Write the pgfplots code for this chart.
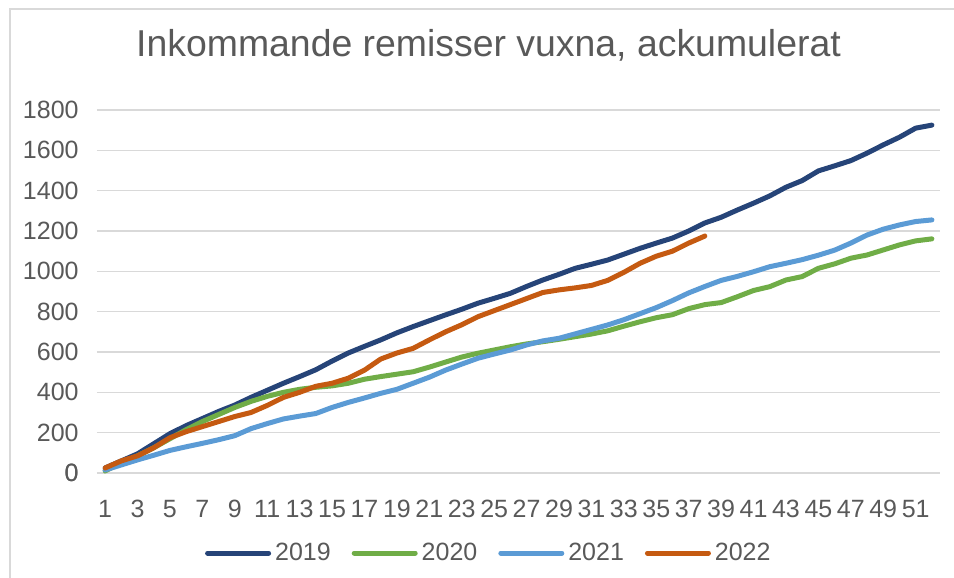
\documentclass[border=0pt]{standalone}
\usepackage{fontspec}
\setmainfont{Liberation Sans}
\usepackage{pgfplots}
\pgfplotsset{compat=1.18}
\definecolor{c2019}{HTML}{264478}
\definecolor{c2020}{HTML}{70AD47}
\definecolor{c2021}{HTML}{5B9BD5}
\definecolor{c2022}{HTML}{C55A11}
\definecolor{gridc}{HTML}{D9D9D9}
\definecolor{txt}{HTML}{595959}
\begin{document}
\begin{tikzpicture}
\useasboundingbox (-48.5pt,-52.5pt) rectangle (428.5pt,236.5pt);
\draw[gridc, line width=0.75pt] (-43.5pt,-60pt) -- (-43.5pt,232pt) -- (440pt,232pt);
\node[anchor=base, text=txt, font=\fontsize{18.7}{22}\selectfont, inner sep=0pt] at (195.75pt,208.25pt) {Inkommande remisser vuxna, ackumulerat};
\begin{axis}[
  at={(0pt,0pt)}, anchor=south west,
  scale only axis, width=421.5pt, height=181.5pt,
  xmin=0.5, xmax=52.5, ymin=0, ymax=1800,
  xtick={1,3,...,51}, ytick={0,200,...,1800},
  axis line style={draw=none},
  axis x line*=bottom,
  tick style={draw=none},
  ymajorgrids, grid style={gridc, line width=0.75pt},
  extra y ticks={0}, extra y tick style={grid style={gridc, line width=0.9pt}},
  /pgf/number format/assume math mode=true,
  /pgf/number format/1000 sep={},
  ticklabel style={text=txt, font=\fontsize{12.5}{15}\selectfont, inner sep=0pt},
  yticklabel style={anchor=east, xshift=-9pt},
  xticklabel style={anchor=north, yshift=-13.5pt},
  clip=false,
  legend columns=4,
  legend style={at={(0.466,-0.2204)}, anchor=center, draw=none, fill=none,
    font=\fontsize{12.5}{15}\selectfont, text=txt,
    /tikz/every even column/.append style={column sep=8.5pt}},
  legend image code/.code={\draw[#1, line cap=round] (0pt,0pt) -- (30.5pt,0pt);},
  every axis plot/.append style={line width=2.5pt, line join=round, line cap=round, mark=none},
]
\addplot[c2019] coordinates {
(1,25)(2,60)(3,95)(4,145)(5,195)(6,235)(7,270)(8,305)(9,337)(10,375)
(11,410)(12,445)(13,478)(14,512)(15,555)(16,595)(17,628)(18,660)(19,695)(20,726)
(21,755)(22,784)(23,812)(24,842)(25,866)(26,891)(27,925)(28,957)(29,985)(30,1015)
(31,1035)(32,1056)(33,1085)(34,1114)(35,1140)(36,1165)(37,1200)(38,1240)(39,1268)(40,1304)
(41,1338)(42,1374)(43,1417)(44,1450)(45,1498)(46,1523)(47,1549)(48,1586)(49,1627)(50,1665)
(51,1710)(52,1725)};
\addlegendentry{2019}
\addplot[c2020] coordinates {
(1,10)(2,50)(3,85)(4,125)(5,170)(6,215)(7,255)(8,290)(9,325)(10,355)
(11,380)(12,400)(13,415)(14,425)(15,432)(16,445)(17,465)(18,478)(19,490)(20,502)
(21,525)(22,550)(23,575)(24,594)(25,610)(26,626)(27,640)(28,651)(29,663)(30,676)
(31,689)(32,705)(33,728)(34,750)(35,770)(36,785)(37,815)(38,835)(39,845)(40,874)
(41,905)(42,924)(43,957)(44,974)(45,1015)(46,1037)(47,1065)(48,1081)(49,1106)(50,1131)
(51,1151)(52,1161)};
\addlegendentry{2020}
\addplot[c2021] coordinates {
(1,15)(2,40)(3,65)(4,88)(5,112)(6,130)(7,147)(8,165)(9,185)(10,220)
(11,245)(12,268)(13,282)(14,295)(15,325)(16,350)(17,372)(18,395)(19,415)(20,445)
(21,475)(22,510)(23,540)(24,569)(25,590)(26,610)(27,635)(28,655)(29,668)(30,690)
(31,712)(32,734)(33,760)(34,790)(35,820)(36,855)(37,893)(38,925)(39,955)(40,975)
(41,998)(42,1023)(43,1040)(44,1058)(45,1080)(46,1105)(47,1140)(48,1180)(49,1209)(50,1230)
(51,1247)(52,1255)};
\addlegendentry{2021}
\addplot[c2022] coordinates {
(1,25)(2,60)(3,85)(4,125)(5,175)(6,205)(7,230)(8,255)(9,280)(10,300)
(11,335)(12,375)(13,400)(14,430)(15,445)(16,470)(17,510)(18,565)(19,595)(20,618)
(21,660)(22,700)(23,735)(24,775)(25,805)(26,835)(27,865)(28,895)(29,908)(30,918)
(31,930)(32,955)(33,995)(34,1040)(35,1075)(36,1100)(37,1140)(38,1175)};
\addlegendentry{2022}
\end{axis}
\end{tikzpicture}
\end{document}
